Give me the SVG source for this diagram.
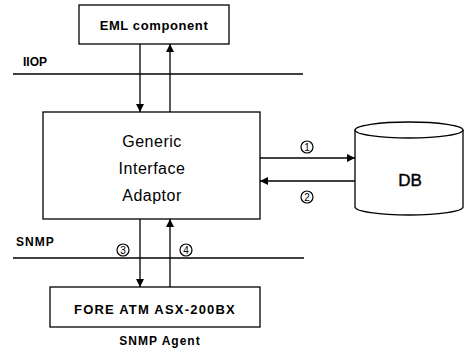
<svg xmlns="http://www.w3.org/2000/svg" width="466" height="350" viewBox="0 0 466 350">
<defs>
<marker id="ah" viewBox="0 0 10 10" refX="10" refY="5" markerWidth="8" markerHeight="8" markerUnits="userSpaceOnUse" orient="auto"><path d="M0,0 L10,5 L0,10 z" fill="#000"/></marker>
<style>
.box{fill:#fff;stroke:#000;stroke-width:1.3}
.ln{stroke:#000;stroke-width:1.3;fill:none}
.c{stroke:#000;stroke-width:1.3;fill:none;marker-end:url(#ah)}
.b{font-family:"Liberation Sans",Arial,sans-serif;font-weight:bold;fill:#000}
.r{font-family:"Liberation Sans",Arial,sans-serif;fill:#000}
.nc{fill:none;stroke:#000;stroke-width:1.2}
.n{font-family:"Liberation Sans",Arial,sans-serif;font-size:10px;fill:#000;text-anchor:middle}
</style>
</defs>
<rect width="466" height="350" fill="#fff"/>
<g id="iiop">
<line class="ln" x1="13" y1="74" x2="303" y2="74"/>
<text class="b" x="23" y="66" font-size="12">IIOP</text>
</g>
<g id="snmp">
<line class="ln" x1="13" y1="258" x2="304" y2="258"/>
<text class="b" x="16" y="246" font-size="12" letter-spacing="1">SNMP</text>
</g>
<g id="eml">
<rect class="box" x="79" y="5" width="150" height="39"/>
<text class="b" x="154" y="30" font-size="13" text-anchor="middle" letter-spacing="0.6">EML component</text>
</g>
<g id="gia">
<rect class="box" x="43" y="112" width="217" height="107"/>
<text class="r" x="152" y="147" font-size="16" text-anchor="middle" letter-spacing="0.5">Generic</text>
<text class="r" x="152" y="174" font-size="16" text-anchor="middle" letter-spacing="0.5">Interface</text>
<text class="r" x="152" y="201" font-size="16" text-anchor="middle" letter-spacing="0.5">Adaptor</text>
</g>
<g id="db">
<path class="box" d="M355,130 L355,207 A54,8 0 0 0 463,207 L463,130"/>
<ellipse class="box" cx="409" cy="130" rx="54" ry="8"/>
<text class="r" x="410" y="186" font-size="17" text-anchor="middle" stroke="#000" stroke-width="0.4">DB</text>
</g>
<g id="fore">
<rect class="box" x="50" y="287" width="210" height="40"/>
<text class="b" x="155" y="314" font-size="13" text-anchor="middle" letter-spacing="1.2">FORE ATM ASX-200BX</text>
</g>
<g id="agent">
<text class="b" x="160" y="345" font-size="12" text-anchor="middle" letter-spacing="1">SNMP Agent</text>
</g>
<g id="connectors">
<line class="c" x1="140" y1="44" x2="140" y2="112"/>
<line class="c" x1="170" y1="112" x2="170" y2="44"/>
<line class="c" x1="260" y1="158" x2="355" y2="158"/>
<line class="c" x1="355" y1="181" x2="260" y2="181"/>
<line class="c" x1="140" y1="219" x2="140" y2="287"/>
<line class="c" x1="170" y1="287" x2="170" y2="219"/>
<circle class="nc" cx="307" cy="147" r="6"/><text class="n" x="307" y="150.5">1</text>
<circle class="nc" cx="307" cy="197" r="6"/><text class="n" x="307" y="200.5">2</text>
<circle class="nc" cx="123" cy="250" r="6"/><text class="n" x="123" y="253.5">3</text>
<circle class="nc" cx="186" cy="250" r="6"/><text class="n" x="186" y="253.5">4</text>
</g>
</svg>
